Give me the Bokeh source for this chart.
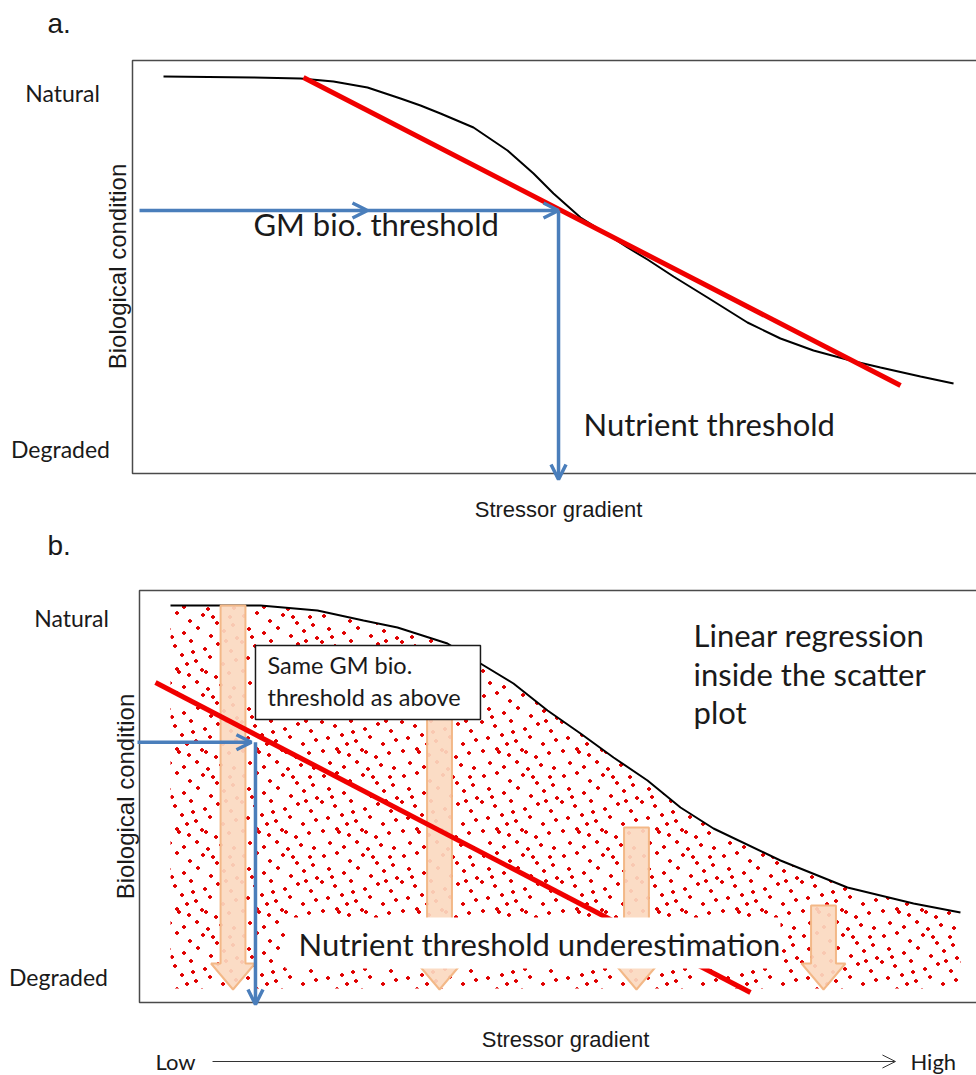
import base64
from bokeh.plotting import figure
from bokeh.models import Range1d, Label, Arrow, OpenHead, BoxAnnotation, ImageURLTexture
from bokeh.layouts import column
from bokeh.embed import file_html
from bokeh.resources import INLINE

# ---------------- data (stressor gradient 0-100, biological condition 0-100) ----------------
# panel a: stressor-response curve and its linear regression
curve_a_x = [3.71, 14.47, 20.10, 24.04, 28.11, 32.06, 34.45, 36.84, 40.79, 44.86, 47.97,
             50.36, 53.59, 56.82, 59.21, 61.60, 64.71, 68.78, 73.56, 77.51, 81.46, 85.89,
             89.47, 94.26, 98.21]
curve_a_y = [96.13, 95.88, 95.64, 94.92, 93.46, 90.80, 89.10, 87.17, 83.78, 78.21, 72.64,
             67.80, 61.99, 57.87, 54.72, 51.82, 47.70, 42.62, 36.56, 32.69, 29.78, 27.36,
             25.67, 23.49, 21.79]
reg_a_x = [20.45, 91.87]
reg_a_y = [95.88, 21.31]
bio_threshold_a = 63.68
nutrient_threshold_a = 50.96

# panel b: upper envelope of the scatter and the regression inside the scatter
curve_b_x = [3.74, 14.60, 21.47, 27.02, 31.12, 37.15, 41.13, 45.11, 49.22, 53.20, 57.18,
             61.28, 65.26, 69.24, 77.32, 85.40, 93.37, 99.03]
curve_b_y = [96.36, 96.36, 95.15, 92.72, 91.02, 87.14, 82.28, 77.43, 70.87, 65.29, 59.47,
             53.88, 47.33, 42.23, 34.47, 27.91, 24.03, 21.84]
scatter_floor = 3.40
reg_b_x = [1.93, 73.70]
reg_b_y = [77.67, 2.43]
bio_threshold_b = 63.18
nutrient_threshold_b = 13.99

# panel b: downward "underestimation" block arrows
arrow_x = [11.28, 36.19, 59.95, 82.51]
arrow_top = [96.36, 73.30, 42.48, 23.54]
arrow_head_base = [9.47, 9.47, 9.47, 9.47]
arrow_tip = [3.16, 3.16, 3.16, 3.16]

# ---------------- styles ----------------
BLUE = "#4a7ebb"
RED = "#f00000"
TXT = "#1a1a1a"
FRAME = "#4a4a4a"
CAL = "Lato"
ARI = "Liberation Sans"

# fill texture standing for the (unreadable) cloud of scatter points: an 80 px tile of "+" specks
SPECKS = [(4, 5), (17, 2), (30, 10), (43, 4), (57, 12), (70, 6), (9, 18), (24, 22), (38, 17),
          (51, 25), (64, 20), (77, 27), (2, 31), (15, 35), (31, 30), (45, 38), (58, 33),
          (71, 40), (8, 47), (22, 44), (36, 50), (50, 46), (63, 53), (76, 49), (3, 60),
          (17, 58), (29, 64), (42, 59), (56, 66), (69, 62), (10, 72), (24, 76), (37, 71),
          (48, 78), (61, 74), (74, 77), (33, 41), (66, 30), (12, 26), (53, 6), (19, 61),
          (46, 61), (73, 14), (27, 53)]
_svg = ('<svg xmlns="http://www.w3.org/2000/svg" width="80" height="80">'
        '<g stroke="#e00000" stroke-width="1.8" fill="none">'
        + "".join(f'<path d="M{x - 2} {y}h4M{x} {y - 2}v4"/>' for x, y in SPECKS)
        + "</g></svg>")
TEXTURE_URL = "data:image/svg+xml;base64," + base64.b64encode(_svg.encode()).decode()


def make_fig(h, xr, yr):
    p = figure(width=976, height=h, x_range=Range1d(*xr), y_range=Range1d(*yr),
               output_backend="svg", toolbar_location=None,
               x_axis_type=None, y_axis_type=None)
    p.min_border = 0
    p.min_border_left = 0
    p.min_border_right = 0
    p.min_border_top = 0
    p.min_border_bottom = 0
    p.outline_line_color = None
    p.background_fill_color = "white"
    p.border_fill_color = "white"
    # plot box (its right side lies just beyond the picture, as in the original)
    p.add_layout(BoxAnnotation(left=0, right=110, bottom=0, top=100,
                               fill_color=None, fill_alpha=0,
                               line_color=FRAME, line_alpha=1.0, line_width=1.5,
                               level="underlay"))
    return p


def lab(p, x, y, text, font, size, align="left", angle=0.0):
    p.add_layout(Label(x=x, y=y, text=text, text_font=font, text_font_size=f"{size}px",
                       text_align=align, text_baseline="middle", angle=angle,
                       text_color=TXT))


def blue_arrow(p, x0, y0, x1, y1):
    p.add_layout(Arrow(end=OpenHead(size=15, line_color=BLUE, line_width=3.5),
                       x_start=x0, y_start=y0, x_end=x1, y_end=y1,
                       line_color=BLUE, line_width=3.5))


# ---------------- panel a ----------------
pa = make_fig(531, (-15.789, 100.957), (-14.044, 114.528))
pa.line(curve_a_x, curve_a_y, line_color="black", line_width=2)
pa.line(reg_a_x, reg_a_y, line_color=RED, line_width=5)
blue_arrow(pa, 0.84, bio_threshold_a, 28.11, bio_threshold_a)
blue_arrow(pa, 28.11, bio_threshold_a, nutrient_threshold_a, bio_threshold_a)
blue_arrow(pa, nutrient_threshold_a, bio_threshold_a, nutrient_threshold_a, -1.45)

lab(pa, -10.17, 108.96, "a.", ARI, 28)
lab(pa, -8.37, 92.08, "Natural", CAL, 23, align="center")
lab(pa, -8.61, 5.88, "Degraded", CAL, 23, align="center")
lab(pa, -1.84, 50.12, "Biological condition", ARI, 24, align="center", angle=1.5708)
lab(pa, 50.96, -8.72, "Stressor gradient", ARI, 22, align="center")
lab(pa, 14.47, 60.34, "GM bio. threshold", CAL, 31)
lab(pa, 53.95, 11.91, "Nutrient threshold", CAL, 31)

# ---------------- panel b ----------------
pb = make_fig(544, (-16.767, 100.965), (-17.718, 114.320))
env_x = curve_b_x + [curve_b_x[-1], curve_b_x[0]]
env_y = curve_b_y + [scatter_floor, scatter_floor]
pb.patch(env_x, env_y, fill_color=None, line_color=None,
         hatch_pattern="specks", hatch_extra={"specks": ImageURLTexture(url=TEXTURE_URL)})
pb.line(curve_b_x, curve_b_y, line_color="black", line_width=2)

SHAFT_W = 3.0
HEAD_W = 5.3
axs, ays = [], []
for cx, top, base, tip in zip(arrow_x, arrow_top, arrow_head_base, arrow_tip):
    s, h = SHAFT_W / 2, HEAD_W / 2
    axs.append([cx - s, cx + s, cx + s, cx + h, cx, cx - h, cx - s])
    ays.append([top, top, base, base, tip, base, base])
pb.patches(axs, ays, fill_color="#fbd9c0", fill_alpha=0.92,
           line_color="#f3b887", line_width=2)

pb.line(reg_b_x, reg_b_y, line_color=RED, line_width=5)
blue_arrow(pb, -0.24, bio_threshold_b, 13.5, bio_threshold_b)
blue_arrow(pb, nutrient_threshold_b, bio_threshold_b, nutrient_threshold_b, -0.49)

pb.add_layout(BoxAnnotation(left=17.61, right=77.32, bottom=8.25, top=20.63,
                            fill_color="white", fill_alpha=1.0, line_color=None))
pb.add_layout(BoxAnnotation(left=13.99, right=41.13, bottom=68.69, top=86.65,
                            fill_color="white", fill_alpha=1.0,
                            line_color=TXT, line_alpha=1.0, line_width=1.5))

lab(pb, -11.10, 110.92, "b.", ARI, 28)
lab(pb, -8.20, 93.28, "Natural", CAL, 23, align="center")
lab(pb, -9.77, 6.14, "Degraded", CAL, 23, align="center")
lab(pb, -1.74, 50.0, "Biological condition", ARI, 24, align="center", angle=1.5708)
lab(pb, 51.39, -9.05, "Stressor gradient", ARI, 22, align="center")
lab(pb, 15.44, 81.92, "Same GM bio.", CAL, 23.5)
lab(pb, 15.44, 74.15, "threshold as above", CAL, 23.5)
lab(pb, 66.83, 89.13, "Linear regression", CAL, 31)
lab(pb, 66.83, 79.66, "inside the scatter", CAL, 31)
lab(pb, 66.83, 70.44, "plot", CAL, 31)
lab(pb, 19.18, 14.13, "Nutrient threshold underestimation", CAL, 31)

lab(pb, 1.93, -14.32, "Low", CAL, 22)
lab(pb, 93.00, -14.32, "High", CAL, 22)
pb.add_layout(Arrow(end=OpenHead(size=13, line_color="#333333", line_width=1),
                    x_start=8.81, y_start=-14.32, x_end=91.19, y_end=-14.32,
                    line_color="#333333", line_width=1))

layout = column(pa, pb)
open("out.html", "w").write(file_html(layout, INLINE))
